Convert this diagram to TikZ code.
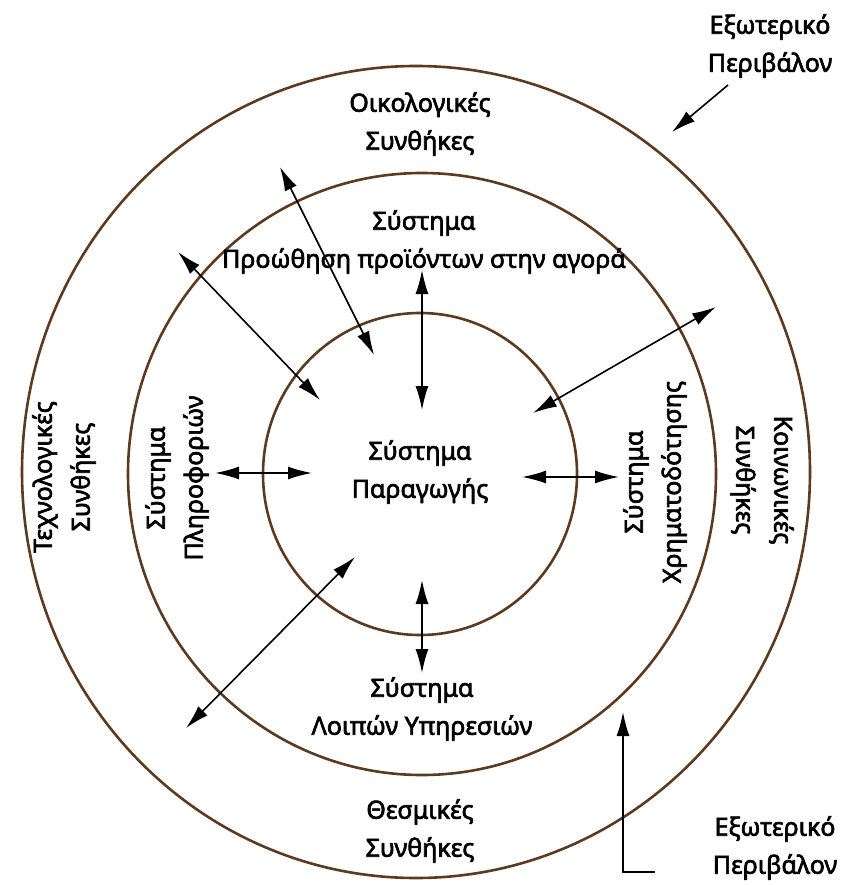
\documentclass[tikz,border=0pt]{standalone}
\usepackage{fontspec}
\setmainfont{Noto Sans}
\newfontfamily\ringfont{Noto Sans}[FakeBold=2.6]
\usetikzlibrary{arrows.meta,positioning}
\definecolor{ringBrown}{RGB}{92,58,32}

\begin{document}
\begin{tikzpicture}[
  x=1pt, y=-1pt,
  every node/.style={font=\ringfont\fontsize{25}{38}\selectfont},
  tag/.style={align=center, inner sep=0pt},
  ring/.style={draw=ringBrown, line width=2.6pt},
  flow/.style={
    draw=black,
    line width=1.6pt,
    {Latex[length=24pt,width=13pt]}-{Latex[length=24pt,width=13pt]}
  },
  push/.style={draw=black, line width=1.6pt, -{Latex[length=24pt,width=13pt]}}
]
  \useasboundingbox (0,0) rectangle (844,885);

  % the three rings
  \draw[ring] (416,472) ellipse [x radius=394pt, y radius=406pt];
  \draw[ring] (422,474) ellipse [x radius=294pt, y radius=301pt];
  \draw[ring] (420,474) ellipse [x radius=157pt, y radius=161pt];

  % labels
  \node[tag] (eco) at (420,124) {Οικολογικές\\ Συνθήκες};
  \node[tag] (promo) at (424,242) {Σύστημα\\ Προώθηση προϊόντων στην αγορά};
  \node[tag] (prod) at (420,472) {Σύστημα\\ Παραγωγής};
  \node[tag] (serv) at (422,709) {Σύστημα\\ Λοιπών Υπηρεσιών};
  \node[tag] (inst) at (420,831) {Θεσμικές\\ Συνθήκες};
  \node[tag, rotate=90] (tech) at (64,477) {Τεχνολογικές\\ Συνθήκες};
  \node[tag, rotate=90] (info) at (177,478) {Σύστημα\\ Πληροφοριών};
  \node[tag, rotate=90] (fin) at (655,482) {Σύστημα\\ Χρηματοδότησης};
  \node[tag, rotate=-90] (soc) at (762,480) {Κοινωνικές\\ Συνθήκες};
  \node[tag] (extTop) at (770,46) {Εξωτερικό\\ Περιβάλον};
  \node[tag] (extBot) at (775,848) {Εξωτερικό\\ Περιβάλον};

  % arrow ends
  \coordinate (ecoA) at (178,252);
  \coordinate (ecoB) at (320,400);
  \coordinate (ecoC) at (280,167);
  \coordinate (ecoD) at (374,355);
  \coordinate (promoA) at (422,270);
  \coordinate (promoB) at (422,410);
  \coordinate (socA) at (716,307);
  \coordinate (socB) at (533,413);
  \coordinate (infoA) at (215,473);
  \coordinate (infoB) at (312,473);
  \coordinate (finA) at (522,477);
  \coordinate (finB) at (619,477);
  \coordinate (techA) at (355,557);
  \coordinate (techB) at (186,728);
  \coordinate (servA) at (422,580);
  \coordinate (servB) at (422,673);
  \coordinate (inTop) at (728,85);
  \coordinate (inTopEnd) at (672,132);
  \coordinate (inBot) at (655,872);
  \coordinate (inBotEnd) at (623,712);

  % connectors
  \draw[flow] (ecoA) -- (ecoB);
  \draw[flow] (ecoC) -- (ecoD);
  \draw[flow] (promoA) -- (promoB);
  \draw[flow] (socA) -- (socB);
  \draw[flow] (infoA) -- (infoB);
  \draw[flow] (finA) -- (finB);
  \draw[flow] (techA) -- (techB);
  \draw[flow] (servA) -- (servB);
  \draw[push] (inTop) -- (inTopEnd);
  \draw[push] (inBot) -| (inBotEnd);
\end{tikzpicture}
\end{document}
